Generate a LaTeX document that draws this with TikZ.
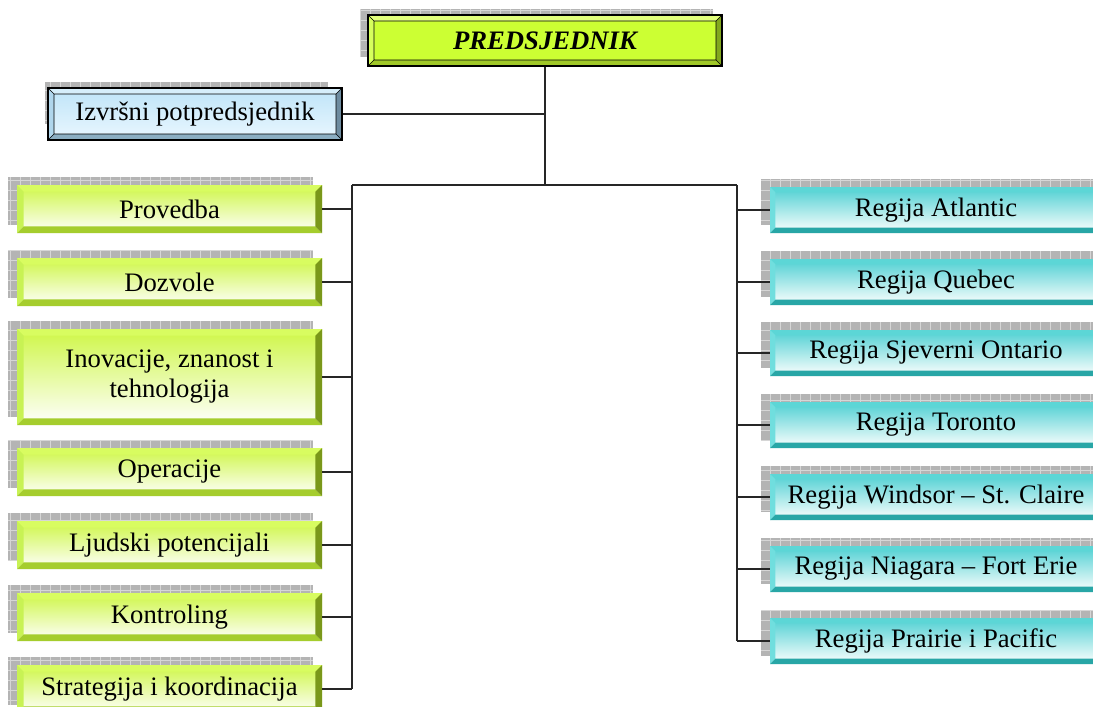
\documentclass[tikz,border=0pt]{standalone}
\usepackage{fontspec}
\setmainfont{Liberation Serif}
\usetikzlibrary{calc}
\definecolor{shfill}{RGB}{180,180,180}
\definecolor{shline}{RGB}{214,214,214}
% green
\definecolor{gTop}{RGB}{206,246,70}
\definecolor{gT}{RGB}{216,252,96}
\definecolor{gL}{RGB}{200,242,84}
\definecolor{gB}{RGB}{165,205,45}
\definecolor{gR}{RGB}{122,152,26}
% teal
\definecolor{tTop}{RGB}{78,208,210}
\definecolor{tT}{RGB}{92,214,214}
\definecolor{tL}{RGB}{112,222,222}
\definecolor{tB}{RGB}{40,166,166}
\definecolor{tR}{RGB}{30,130,130}
% president
\definecolor{pFill}{RGB}{204,255,51}
\definecolor{pT}{RGB}{226,255,124}
\definecolor{pL}{RGB}{214,255,92}
\definecolor{pB}{RGB}{160,200,40}
\definecolor{pR}{RGB}{130,168,30}
% vice president
\definecolor{vTop}{RGB}{190,228,248}
\definecolor{vBot}{RGB}{234,247,255}
\definecolor{vT}{RGB}{214,238,250}
\definecolor{vL}{RGB}{176,214,236}
\definecolor{vB}{RGB}{140,174,194}
\definecolor{vR}{RGB}{110,140,160}
\tikzset{
  bevel/.style n args={6}{path picture={
    \path (path picture bounding box.north west) coordinate (bvNW)
          (path picture bounding box.south east) coordinate (bvSE);
    \path ([shift={(#5,-#5)}]bvNW) coordinate (bvnw)
          ([shift={(-#5,#5)}]bvSE) coordinate (bvse);
    \fill[#1] (bvNW) -- (bvNW -| bvSE) -- (bvnw -| bvse) -- (bvnw) -- cycle;
    \fill[#2] (bvNW) -- (bvnw) -- (bvse -| bvnw) -- (bvSE -| bvNW) -- cycle;
    \fill[#3] (bvSE -| bvNW) -- (bvse -| bvnw) -- (bvse) -- (bvSE) -- cycle;
    \fill[#4] (bvSE) -- (bvse) -- (bvnw -| bvse) -- (bvNW -| bvSE) -- cycle;
    \draw[#6] (bvnw) rectangle (bvse)
          (bvNW) -- (bvnw) (bvNW -| bvSE) -- (bvnw -| bvse)
          (bvSE) -- (bvse) (bvSE -| bvNW) -- (bvse -| bvnw);
  }},
  txt/.style={font=\fontsize{20}{22.5}\selectfont, align=center, inner sep=0pt, text=black},
  greenbox/.style={txt, top color=gTop, bottom color=white,
    bevel={gT}{gL}{gB}{gR}{5pt}{draw=none}},
  tealbox/.style={txt, top color=tTop, bottom color=white,
    bevel={tT}{tL}{tB}{tR}{4pt}{draw=none}},
  presbox/.style={txt, fill=pFill, draw=black, line width=1pt,
    bevel={pT}{pL}{pB}{pR}{4.5pt}{black,line width=0.5pt}},
  vpbox/.style={txt, top color=vTop, bottom color=vBot, draw=black, line width=1pt,
    bevel={vT}{vL}{vB}{vR}{4.5pt}{black,line width=0.5pt}},
  conn/.style={draw=black!85, line width=1pt},
  shfillst/.style={fill=shfill},
  shgrid/.style={draw=shline, line width=0.5pt, step=7.5pt},
}
\newcommand\shad[4]{%
  \fill[shfillst] (#1,#2) rectangle (#3,#4);
  \draw[shgrid] (#1,#2) grid (#3,#4);}
\newcommand\obox[7]{%
  \shad{#2-#4/2-9}{#3-#5/2-8}{#2+#4/2-9}{#3+#5/2-8}
  \node[#6, minimum width=#4*0.75pt, minimum height=#5*0.75pt] (#1) at (#2,#3) {#7};}
\begin{document}
\begin{tikzpicture}[x=0.75pt, y=-0.75pt]
\useasboundingbox (0,0) rectangle (1093,707);
\clip (0,0) rectangle (1093,707);
% president
\shad{360}{9}{713}{57}
\node[presbox, minimum width=354*0.75pt, minimum height=51*0.75pt] (pres) at (545,40.5) {\bfseries\itshape PREDSJEDNIK};
% vice president
\shad{45}{82}{328}{124}
\node[vpbox, minimum width=294*0.75pt, minimum height=52*0.75pt] (vp) at (195,114) {Izvršni potpredsjednik};
% left column
\obox{l1}{169.5}{209}{305}{48}{greenbox}{Provedba}
\obox{l2}{169.5}{282}{305}{48}{greenbox}{Dozvole}
\obox{l3}{169.5}{377}{305}{96}{greenbox}{Inovacije, znanost i\\tehnologija}
\obox{l4}{169.5}{472}{305}{48}{greenbox}{Operacije}
\obox{l5}{169.5}{545}{305}{48}{greenbox}{Ljudski potencijali}
\obox{l6}{169.5}{617}{305}{48}{greenbox}{Kontroling}
\obox{l7}{169.5}{689}{305}{48}{greenbox}{Strategija i koordinacija}
% right column
\obox{r1}{936}{210}{332}{46}{tealbox}{Regija Atlantic}
\obox{r2}{936}{282}{332}{46}{tealbox}{Regija Quebec}
\obox{r3}{936}{353}{332}{46}{tealbox}{Regija Sjeverni Ontario}
\obox{r4}{936}{425}{332}{46}{tealbox}{Regija Toronto}
\obox{r5}{936}{497}{332}{46}{tealbox}{Regija Windsor – St. Claire}
\obox{r6}{936}{569}{332}{46}{tealbox}{Regija Niagara – Fort Erie}
\obox{r7}{936}{641}{332}{46}{tealbox}{Regija Prairie i Pacific}
% connectors
\coordinate (top) at (545,185);
\coordinate (lt) at (352,185);
\coordinate (rt) at (737,185);
\draw[conn] (pres.south) -- (top);
\draw[conn] (vp.east) -- (vp.east -| top);
\draw[conn] (lt) -- (rt);
\draw[conn] (lt) -- (lt |- l7.east);
\draw[conn] (rt) -- (rt |- r7.west);
\foreach \i in {1,...,7}{
  \draw[conn] (l\i.east) -- (l\i.east -| lt);
  \draw[conn] (r\i.west) -- (r\i.west -| rt);
}
\end{tikzpicture}
\end{document}
